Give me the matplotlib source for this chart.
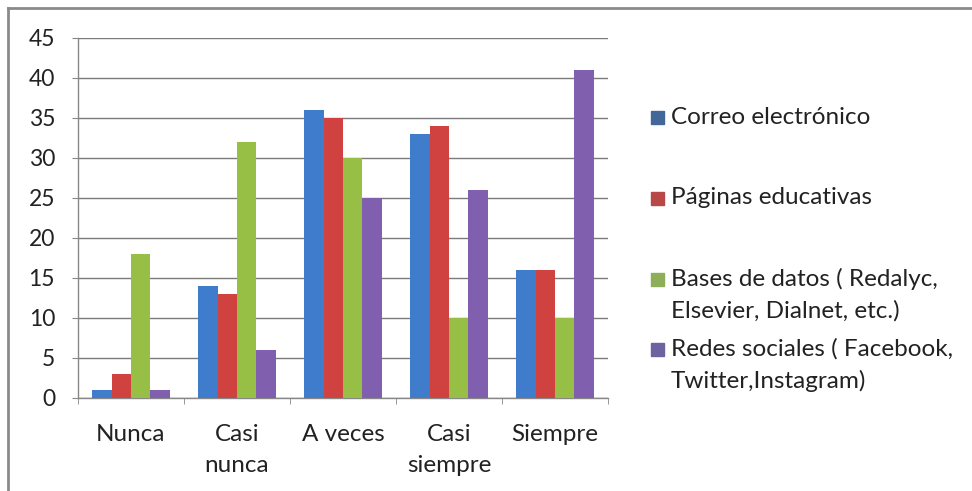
import matplotlib
matplotlib.use("Agg")
import matplotlib.pyplot as plt
from matplotlib.lines import Line2D
import numpy as np

categories = ["Nunca", "Casi\nnunca", "A veces", "Casi\nsiempre", "Siempre"]
series_names = [
    "Correo electrónico",
    "Páginas educativas",
    "Bases de datos ( Redalyc,\nElsevier, Dialnet, etc.)",
    "Redes sociales ( Facebook,\nTwitter,Instagram)",
]
correo = [1, 14, 36, 33, 16]
paginas = [3, 13, 35, 34, 16]
bases = [18, 32, 30, 10, 10]
redes = [1, 6, 25, 26, 41]
y_ticks = [0, 5, 10, 15, 20, 25, 30, 35, 40, 45]

colors = ["#3f7ccc", "#cf4240", "#98bf45", "#7f5fae"]
legend_colors = ["#44679a", "#b84747", "#8fae5a", "#6c64a0"]

plt.rcParams["font.family"] = ["Lato", "DejaVu Sans"]
W, H = 972, 491

fig = plt.figure(figsize=(W / 100, H / 100), dpi=100)
ax = fig.add_axes([78 / W, 1 - 398 / H, (608 - 78) / W, 360 / H])

x = np.arange(len(categories))
width = 1 / 5.5
all_series = [correo, paginas, bases, redes]
for i, (vals, c) in enumerate(zip(all_series, colors)):
    offs = (i - 1.5) * width
    ax.bar(x + offs, vals, width, color=c, edgecolor="none", zorder=3,
           label=series_names[i])

ax.set_xlim(-0.5, len(categories) - 0.5)
ax.set_ylim(0, 45)
ax.set_yticks(y_ticks)
ax.set_yticklabels([str(t) for t in y_ticks], fontsize=16.5, color="#222222")
ax.set_xticks(x)
ax.set_xticklabels(categories, fontsize=17.5, color="#222222", linespacing=1.58)
ax.xaxis.set_minor_locator(matplotlib.ticker.FixedLocator(np.arange(-0.5, 5.0, 1.0)))
ax.tick_params(axis="x", which="major", length=0, pad=19)
ax.tick_params(axis="x", which="minor", length=4, color="#888888", direction="out")
ax.tick_params(axis="y", length=4.5, color="#888888", pad=12)
ax.grid(axis="y", color="#7a7a7a", linewidth=1.0, zorder=0)
for side in ["top", "right"]:
    ax.spines[side].set_visible(False)
for side in ["left", "bottom"]:
    ax.spines[side].set_color("#888888")
    ax.spines[side].set_linewidth(1.0)

# legend entries placed to the right of the plot area
legend_y = [117, 198, 279, 349]
line_step = 32
for name, c, yy in zip(series_names, legend_colors, legend_y):
    fig.add_artist(plt.Rectangle((651 / W, 1 - (yy + 6.5) / H), 13 / W, 13 / H,
                                 transform=fig.transFigure, color=c))
    for k, line in enumerate(name.split("\n")):
        fig.text(671 / W, 1 - (yy + k * line_step) / H, line, fontsize=17.5,
                 color="#222222", va="center", ha="left")

# outer frame (top and left edges)
fig.add_artist(Line2D([8 / W, 1], [1 - 8 / H, 1 - 8 / H], color="#8a8a8a", lw=2,
                      transform=fig.transFigure))
fig.add_artist(Line2D([8 / W, 8 / W], [0, 1 - 8 / H], color="#8a8a8a", lw=2,
                      transform=fig.transFigure))

fig.savefig("out.png", dpi=100, facecolor="white")
